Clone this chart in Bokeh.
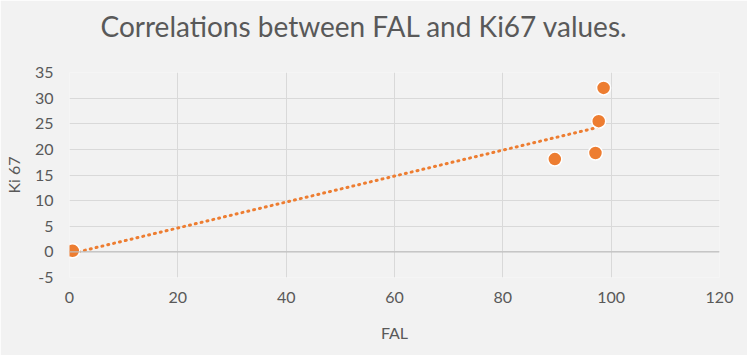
import numpy as np
from bokeh.plotting import figure
from bokeh.models import Span, ColumnDataSource, Range1d, FixedTicker, Title
from bokeh.embed import file_html
from bokeh.resources import INLINE

fal = [0.6, 89.6, 97.1, 97.7, 98.6]
ki67 = [0.2, 18.1, 19.3, 25.5, 32.0]
x_ticks = [0, 20, 40, 60, 80, 100, 120]
y_ticks = [-5, 0, 5, 10, 15, 20, 25, 30, 35]
y_tick_labels = ["-5", "0", "5", "10", "15", "20", "25", "30", "35"]
title_text = "Correlations between FAL and Ki67 values."

BG = "#f2f2f2"
TXT = "#595959"
ORANGE = "#ed7d31"
FONT = "Lato"

p = figure(width=747, height=355, output_backend="svg", toolbar_location=None,
           title_location=None,
           x_range=Range1d(0, 120), y_range=Range1d(-5, 35),
           min_border_left=0, min_border_right=28, min_border_top=72, min_border_bottom=78)
p.background_fill_color = BG
p.border_fill_color = BG
p.outline_line_color = None

# spacer between title and frame, then the title itself further out
p.add_layout(Title(text=" ", text_font_size="1px", standoff=27), "above")
p.add_layout(Title(text=title_text, text_font=FONT, text_font_size="28px",
                   text_font_style="normal", text_color=TXT, align="left",
                   offset=31, standoff=0), "above")

for ax in (p.xaxis, p.yaxis):
    ax.axis_line_color = None
    ax.major_tick_line_color = None
    ax.minor_tick_line_color = None
    ax.major_tick_out = 0
    ax.major_tick_in = 0
    ax.minor_tick_out = 0
    ax.major_label_text_font = FONT
    ax.major_label_text_font_size = "16px"
    ax.major_label_text_color = TXT
    ax.axis_label_text_font = FONT
    ax.axis_label_text_font_size = "16px"
    ax.axis_label_text_font_style = "normal"
    ax.axis_label_text_color = TXT

p.xaxis.ticker = FixedTicker(ticks=x_ticks)
p.yaxis.ticker = FixedTicker(ticks=y_ticks)
p.yaxis.major_label_overrides = {t: s for t, s in zip(y_ticks, y_tick_labels)}
p.xaxis.axis_label = "FAL"
p.yaxis.axis_label = "Ki 67"
p.xaxis.major_label_standoff = 14
p.xaxis.axis_label_standoff = 17
p.yaxis.major_label_standoff = 16
p.yaxis.axis_label_standoff = 9

p.xgrid.grid_line_color = "#d9d9d9"
p.ygrid.grid_line_color = "#d9d9d9"
p.xgrid.grid_line_width = 1
p.ygrid.grid_line_width = 1

p.add_layout(Span(location=0, dimension="width", line_color="#bfbfbf", line_width=1.2))

# linear trendline
slope, intercept = np.polyfit(fal, ki67, 1)
tx = [min(fal), max(fal)]
ty = [slope * v + intercept for v in tx]
p.line(tx, ty, line_color=ORANGE, line_width=3, line_dash="1 5", line_cap="round")

src = ColumnDataSource(dict(x=fal, y=ki67))
p.scatter("x", "y", source=src, size=14, fill_color=ORANGE, line_color="white", line_width=1.5)

open("out.html", "w").write(file_html(p, INLINE))
